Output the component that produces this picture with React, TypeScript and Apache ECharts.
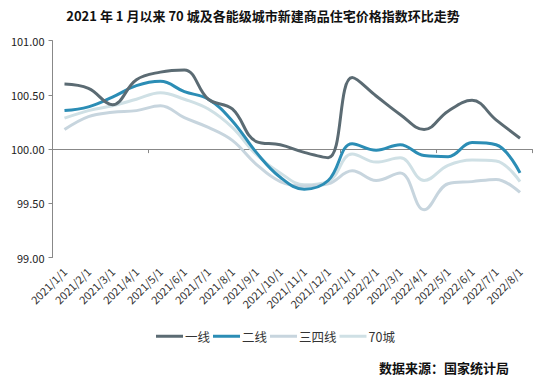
import React, { useEffect, useRef } from "react";
import * as echarts from "echarts";

const categories = [
  "2021/1/1", "2021/2/1", "2021/3/1", "2021/4/1", "2021/5/1", "2021/6/1", "2021/7/1",
  "2021/8/1", "2021/9/1", "2021/10/1", "2021/11/1", "2021/12/1", "2022/1/1", "2022/2/1",
  "2022/3/1", "2022/4/1", "2022/5/1", "2022/6/1", "2022/7/1", "2022/8/1",
];

const tier1 = [100.60, 100.56, 100.41, 100.64, 100.71, 100.73, 100.46, 100.37, 100.07, 100.04, 99.97, 99.92, 100.66, 100.49, 100.32, 100.18, 100.35, 100.45, 100.27, 100.10];
const tier2 = [100.355, 100.39, 100.48, 100.585, 100.625, 100.53, 100.46, 100.26, 99.97, 99.74, 99.63, 99.71, 100.05, 99.99, 100.04, 99.94, 99.93, 100.06, 100.04, 99.78];
const tier34 = [100.18, 100.30, 100.34, 100.355, 100.40, 100.29, 100.20, 100.08, 99.86, 99.70, 99.66, 99.68, 99.80, 99.71, 99.78, 99.44, 99.68, 99.70, 99.72, 99.60];
const city70 = [100.285, 100.355, 100.40, 100.46, 100.52, 100.46, 100.37, 100.20, 99.95, 99.78, 99.67, 99.70, 99.955, 99.88, 99.92, 99.71, 99.85, 99.90, 99.89, 99.70];

const seriesNames = ["一线", "二线", "三四线", "70城"];
const seriesColors = ["#5b6b73", "#2b8db5", "#c7d5de", "#cfe0e5"];

const yMin = 99;
const yMax = 101;
const yInterval = 0.5;

const titleText = "2021 年 1 月以来 70 城及各能级城市新建商品住宅价格指数环比走势";
const sourceText = "数据来源：国家统计局";

const FONT = "'Noto Sans CJK SC', 'Noto Sans', sans-serif";

export default function App() {
  const ref = useRef<HTMLDivElement>(null);
  useEffect(() => {
    if (!ref.current) return;
    const chart = echarts.init(ref.current, undefined, { renderer: "svg" });
    const gridTop = 40.7;
    const gridBottom = 128.5;
    const plotH = 386 - gridTop - gridBottom;
    const zeroOffset = -plotH * (100 - yMin) / (yMax - yMin);
    const data = [tier1, tier2, tier34, city70];
    chart.setOption({
      animation: false,
      backgroundColor: "#ffffff",
      textStyle: { fontFamily: FONT },
      title: [
        {
          text: titleText,
          left: 258,
          textAlign: "center",
          top: 4,
          textStyle: { fontSize: 13, fontWeight: "bold", color: "#111", fontFamily: FONT },
        },
        {
          text: sourceText,
          right: 42,
          top: 356,
          textStyle: { fontSize: 13, fontWeight: "bold", color: "#111", fontFamily: FONT },
        },
      ],
      legend: {
        left: 151,
        top: 325,
        itemWidth: 27,
        itemHeight: 3,
        itemGap: 3,
        icon: "rect",
        textStyle: { fontSize: 12.5, color: "#333", fontFamily: FONT, padding: [0, 0, 0, -3] },
        data: seriesNames,
      },
      grid: { left: 52.5, right: 24, top: gridTop, bottom: gridBottom, containLabel: false },
      xAxis: [
        {
          type: "category",
          data: categories,
          boundaryGap: true,
          axisLine: { show: false },
          axisTick: { show: false },
          axisLabel: {
            rotate: 45,
            interval: 0,
            margin: 12,
            fontSize: 11,
            color: "#333",
            fontFamily: FONT,
          },
        },
        {
          type: "category",
          data: categories,
          position: "bottom",
          offset: zeroOffset,
          boundaryGap: true,
          axisLine: { show: true, lineStyle: { color: "#888", width: 1 } },
          axisTick: { show: true, length: 4, lineStyle: { color: "#888" } },
          axisLabel: { show: false },
        },
      ],
      yAxis: {
        type: "value",
        min: yMin,
        max: yMax,
        interval: yInterval,
        axisLine: { show: true, lineStyle: { color: "#888" } },
        axisTick: { show: true, length: 4, lineStyle: { color: "#888" } },
        splitLine: { show: false },
        axisLabel: {
          margin: 8,
          fontSize: 11,
          color: "#222",
          fontFamily: FONT,
          formatter: (v: number) => v.toFixed(2),
        },
      },
      series: seriesNames.map((name, i) => ({
        name,
        type: "line",
        data: data[i],
        smooth: 0.4,
        showSymbol: false,
        symbol: "none",
        z: 10 - i,
        lineStyle: { color: seriesColors[i], width: 3 },
        itemStyle: { color: seriesColors[i] },
      })),
    });
    return () => chart.dispose();
  }, []);
  return (
    <div
      ref={ref}
      style={{ position: "fixed", left: 0, top: 0, width: 556, height: 386, background: "#fff" }}
    />
  );
}
